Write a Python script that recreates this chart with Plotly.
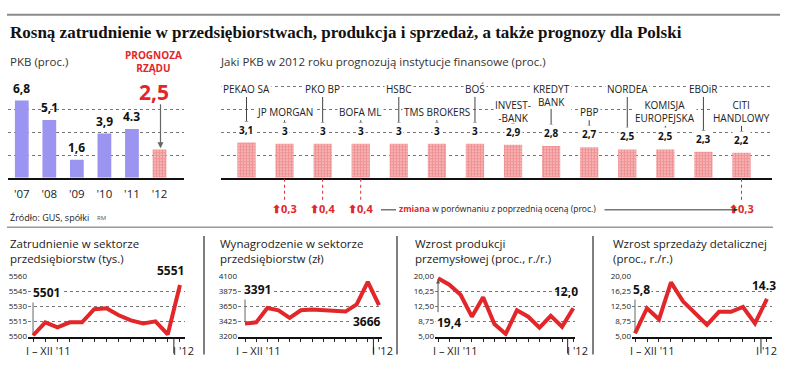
import plotly.graph_objects as go

W, H = 788, 375
def px(x): return x / W
def py(y): return 1 - y / H

RED = "#e3262a"
PURPLE = "#9b94f0"
FONT = "Open Sans"

# ---------------- data ----------------
pkb_years = ["'07", "'08", "'09", "'10", "'11", "'12"]
pkb_values = [6.8, 5.1, 1.6, 3.9, 4.3, 2.5]
pkb_labels = ["6,8", "5,1", "1,6", "3,9", "4.3"]
pkb_forecast_label = "2,5"

institutions = ["PEKAO SA", "JP MORGAN", "PKO BP", "BOFA ML", "HSBC", "TMS BROKERS", "BOŚ",
                "INVEST-BANK", "KREDYT BANK", "PBP", "NORDEA", "KOMISJA EUROPEJSKA", "EBOiR", "CITI HANDLOWY"]
institution_labels = ["PEKAO SA", "JP MORGAN", "PKO BP", "BOFA ML", "HSBC", "TMS BROKERS", "BOŚ",
                      "INVEST-<br>-BANK", "KREDYT<br>BANK", "PBP", "NORDEA", "KOMISJA<br>EUROPEJSKA", "EBOiR",
                      "CITI<br>HANDLOWY"]
forecasts = [3.1, 3.0, 3.0, 3.0, 3.0, 3.0, 3.0, 2.9, 2.8, 2.7, 2.5, 2.5, 2.3, 2.2]
forecast_labels = ["3,1", "3", "3", "3", "3", "3", "3", "2,9", "2,8", "2,7", "2,5", "2,5", "2,3", "2,2"]
change_institutions = ["JP MORGAN", "PKO BP", "BOFA ML", "CITI HANDLOWY"]
change_labels = ["0,3", "0,4", "0,4", "0,3"]

months = ["I '11", "II '11", "III '11", "IV '11", "V '11", "VI '11", "VII '11", "VIII '11",
          "IX '11", "X '11", "XI '11", "XII '11", "I '12"]
months12 = months[1:]

employment = [5501, 5514, 5509, 5514, 5514, 5527, 5528, 5521, 5516, 5513, 5515, 5502, 5551]
wages = [3391, 3410, 3623, 3589, 3477, 3589, 3599, 3589, 3579, 3570, 3677, 4012, 3666]
production = [19.4, 17.8, 15.3, 9.9, 14.7, 8.1, 5.65, 11.5, 9.9, 7.2, 10.1, 7.4, 12.0]
retail = [5.8, 12.0, 9.25, 18.4, 13.7, 10.8, 7.9, 11.1, 11.1, 12.3, 8.25, 14.3]

emp_ticks = [5500, 5515, 5530, 5545, 5560]
wage_ticks = [3200, 3425, 3650, 3875, 4100]
pct_ticks = [5.0, 8.75, 12.5, 16.25, 20.0]
pct_ticktext = ["5,00", "8,75", "12,50", "16,25", "20,00"]

DOTS = dict(shape=".", fgcolor=RED, bgcolor="white", size=3, solidity=0.8)

fig = go.Figure()

# PKB bars (history)
fig.add_trace(go.Bar(
    x=pkb_years[:5], y=pkb_values[:5], width=0.5, xaxis="x", yaxis="y",
    marker=dict(color=PURPLE, line=dict(width=0)), hoverinfo="skip"))
# PKB forecast bar
fig.add_trace(go.Bar(
    x=pkb_years[5:], y=pkb_values[5:], width=0.5, xaxis="x", yaxis="y",
    marker=dict(color="white", line=dict(width=0), pattern=DOTS), hoverinfo="skip"))

# institutions bars
fig.add_trace(go.Bar(
    x=institutions, y=forecasts, width=0.48, xaxis="x2", yaxis="y2",
    marker=dict(color="white", line=dict(width=0), pattern=DOTS), hoverinfo="skip"))

# line panels
for i, (xs, ys) in enumerate([(months, employment), (months, wages), (months, production), (months12, retail)]):
    n = i + 3
    fig.add_trace(go.Scatter(x=xs, y=ys, mode="lines", xaxis=f"x{n}", yaxis=f"y{n}",
                             line=dict(color=RED, width=4), hoverinfo="skip"))

ann = []
shapes = []

def A(**kw):
    d = dict(showarrow=False, xanchor="center", yanchor="middle",
             font=dict(family=FONT, size=11, color="#222"))
    if "font" in kw:
        f = dict(d["font"]); f.update(kw.pop("font")); d["font"] = f
    d.update(kw)
    ann.append(d)

def line(x0, y0, x1, y1, xref="paper", yref="paper", color="#777", width=1, dash="solid"):
    shapes.append(dict(type="line", x0=x0, y0=y0, x1=x1, y1=y1, xref=xref, yref=yref,
                       line=dict(color=color, width=width, dash=dash)))

# top rules
line(px(7), py(9), px(780), py(9), color="#8a8a8a", width=2)
line(px(7), py(228), px(773), py(228), color="#9a9a9a", width=1.5)

# title
A(text="<b>Rosną zatrudnienie w przedsiębiorstwach, produkcja i sprzedaż, a także prognozy dla Polski</b>",
  x=px(8), y=py(27), xref="paper", yref="paper", xanchor="left",
  font=dict(family="Liberation Serif", size=17, color="#111"))

# PKB panel
A(text="PKB (proc.)", x=px(8), y=py(57), xref="paper", yref="paper", xanchor="left",
  font=dict(size=11.5, color="#333"))
for yr, v, lab in zip(pkb_years[:5], pkb_values[:5], pkb_labels):
    A(text=f"<b>{lab}</b>", x=yr, y=v, xref="x", yref="y", yanchor="bottom", yshift=2,
      font=dict(size=12, color="#111"))
A(text="<b>PROGNOZA<br>RZĄDU</b>", x=pkb_years[5], y=py(57.5), xref="x", yref="paper", xshift=-6,
  font=dict(size=10, color=RED))
A(text=f"<b>{pkb_forecast_label}</b>", x=pkb_years[5], y=py(89), xref="x", yref="paper", xshift=-6,
  font=dict(size=21, color=RED))
ann.append(dict(text="", x=pkb_years[5], y=pkb_values[5] + 0.1, xref="x", yref="y",
                ax=0, ay=6.6, axref="pixel", ayref="y", showarrow=True, arrowhead=2,
                arrowsize=1, arrowwidth=1.2, arrowcolor="#666", xshift=1))
A(text="Źródło: GUS, spółki", x=px(8), y=py(218), xref="paper", yref="paper", xanchor="left",
  font=dict(size=9, color="#222"))
A(text="RM", x=px(95), y=py(218), xref="paper", yref="paper", xanchor="left",
  font=dict(size=6, color="#555"))

# institutions panel
A(text="Jaki PKB w 2012 roku prognozują instytucje finansowe (proc.)", x=px(218), y=py(57),
  xref="paper", yref="paper", xanchor="left", font=dict(size=11.5, color="#333"))
for i, (inst, lab, v, vl) in enumerate(zip(institutions, institution_labels, forecasts, forecast_labels)):
    two = "<br>" in lab
    if i % 2 == 0:
        A(text=lab, x=inst, y=8, xref="x2", yref="y2", yanchor="top", yshift=7, bgcolor="white",
          font=dict(size=10, color="#222"))
        tail = 6.2 if two else 7.25
    else:
        A(text=lab, x=inst, y=6, xref="x2", yref="y2", yanchor="middle", yshift=-2, bgcolor="white",
          font=dict(size=10, color="#222"))
        tail = 4.7 if two else 5.2
    ann.append(dict(text="", x=inst, y=v + 1.55, xref="x2", yref="y2", ax=0, ay=tail,
                    axref="pixel", ayref="y2", showarrow=True, arrowhead=2, arrowsize=0.8,
                    arrowwidth=1, arrowcolor="#444"))
    A(text=f"<b>{vl}</b>", x=inst, y=v, xref="x2", yref="y2", yanchor="bottom", yshift=4, bgcolor="white",
      font=dict(size=10, color="#111"))

for inst, cl in zip(change_institutions, change_labels):
    line(inst, py(178), inst, py(200), xref="x2", yref="paper", color=RED, width=1, dash="dot")
    A(text=f"<b>⬆{cl}</b>", x=inst, y=py(209), xref="x2", yref="paper",
      font=dict(size=11, color=RED))
A(text=f"<b><span style='color:{RED}'>zmiana</span></b> w porównaniu z poprzednią oceną (proc.)",
  x=px(397), y=py(209), xref="paper", yref="paper", xanchor="left", font=dict(size=8.5, color="#222"))
line(px(381), py(210), px(396), py(210), color="#333", width=1)
ann.append(dict(text="", x=px(738), y=py(210), xref="paper", yref="paper", ax=-(738 - 603), ay=0,
                axref="pixel", ayref="pixel", showarrow=True, arrowhead=2, arrowsize=0.8,
                arrowwidth=1, arrowcolor="#333"))

# bottom dividers
for xd in [204, 397, 593]:
    line(px(xd), py(237), px(xd), py(359), color="#555", width=1.5)

titles = ["Zatrudnienie w sektorze<br>przedsiębiorstw (tys.)",
          "Wynagrodzenie w sektorze<br>przedsiębiorstw (zł)",
          "Wzrost produkcji<br>przemysłowej (proc., r./r.)",
          "Wzrost sprzedaży detalicznej<br>(proc., r./r.)"]
title_x = [8, 218, 413, 611]
for t, tx in zip(titles, title_x):
    A(text=t, x=px(tx), y=py(235), xref="paper", yref="paper", xanchor="left", yanchor="top",
      align="left", font=dict(size=11.5, color="#222"))

series = [(months, employment), (months, wages), (months, production), (months12, retail)]
for i, (xs, ys) in enumerate(series):
    n = i + 3
    A(text="I – XII '11", x=0, y=py(355), xref=f"x{n} domain", yref="paper", xanchor="left", xshift=-4,
      font=dict(size=11, color="#222"))
    A(text="I '12", x=xs[-1], y=py(355), xref=f"x{n}", yref="paper", xshift=4 if i < 3 else 0,
      font=dict(size=11, color="#222"))
    # separator Dec/Jan
    line(len(xs) - 1.5, py(341), len(xs) - 1.5, py(358), xref=f"x{n}", yref="paper", color="#222", width=1)

# panel 1 labels
line(months[0], 5503, months[0], 5537, xref="x3", yref="y3", color="#666", width=1)
A(text=f"<b>{employment[0]}</b>", x=months[0], y=5544, xref="x3", yref="y3", xanchor="left", xshift=-2,
  bgcolor="white", font=dict(size=12, color="#111"))
A(text=f"<b>{employment[-1]}</b>", x=months[-1], y=employment[-1], xref="x3", yref="y3", xanchor="right",
  yanchor="bottom", xshift=6, yshift=4, font=dict(size=12, color="#111"))
# panel 2 labels
line(months[0], 3420, months[0], 3800, xref="x4", yref="y4", color="#666", width=1)
A(text=f"<b>{wages[0]}</b>", x=months[0], y=3897, xref="x4", yref="y4", xanchor="left", xshift=-3,
  bgcolor="white", font=dict(size=12, color="#111"))
A(text=f"<b>{wages[-1]}</b>", x=months[-1], y=wages[-1], xref="x4", yref="y4", xanchor="right",
  yanchor="top", xshift=4, yshift=-6, bgcolor="white", font=dict(size=12, color="#111"))
# panel 3 labels
ann.append(dict(text="", x=months[0], y=production[0] - 0.3, xref="x5", yref="y5", ax=0, ay=10.6,
                axref="pixel", ayref="y5", showarrow=True, arrowhead=2, arrowsize=0.8,
                arrowwidth=1, arrowcolor="#555"))
A(text="<b>19,4</b>", x=months[0], y=8.4, xref="x5", yref="y5", xanchor="left", xshift=-3,
  bgcolor="white", font=dict(size=12, color="#111"))
A(text="<b>12,0</b>", x=months[-1], y=production[-1], xref="x5", yref="y5", xanchor="right",
  yanchor="bottom", xshift=7, yshift=6, font=dict(size=12, color="#111"))
# panel 4 labels
line(months12[0], 6.4, months12[0], 15.0, xref="x6", yref="y6", color="#666", width=1)
A(text="<b>5,8</b>", x=months12[0], y=16.6, xref="x6", yref="y6", xanchor="left", xshift=-4,
  bgcolor="white", font=dict(size=12, color="#111"))
A(text="<b>14.3</b>", x=months12[-1], y=retail[-1], xref="x6", yref="y6", xanchor="right",
  yanchor="bottom", xshift=11, yshift=3, font=dict(size=12, color="#111"))

GRID = dict(showgrid=True, gridcolor="#777", griddash="dot", gridwidth=1, zeroline=False, showline=False)

layout = dict(
    width=W, height=H, margin=dict(l=0, r=0, t=0, b=0),
    paper_bgcolor="white", plot_bgcolor="white", showlegend=False, barmode="overlay",
    font=dict(family=FONT, color="#222"),
    annotations=ann, shapes=shapes,
    xaxis=dict(domain=[px(8), px(184)], anchor="y", showline=True, linecolor="#111", linewidth=2,
               ticks="", tickfont=dict(size=11.5, color="#222"), ticklabelstandoff=4, showgrid=False,
               categoryorder="array", categoryarray=pkb_years),
    yaxis=dict(domain=[py(177), py(60)], anchor="x", range=[0, 10], tickvals=[2, 4, 6],
               showticklabels=False, **GRID),
    xaxis2=dict(domain=[px(221), px(772)], anchor="y2", showline=True, linecolor="#111", linewidth=2,
                ticks="", showticklabels=False, showgrid=False, categoryorder="array",
                categoryarray=institutions),
    yaxis2=dict(domain=[py(177), py(60)], anchor="x2", range=[0, 10], tickvals=[2, 4, 6, 8],
                showticklabels=False, **GRID),
)

line_axes = [
    (3, [28, 185], [-0.41, 12.41], months, [5500, 5560], emp_ticks, [str(t) for t in emp_ticks]),
    (4, [238, 382], [-0.63, 12.27], months, [3200, 4100], wage_ticks, [str(t) for t in wage_ticks]),
    (5, [435, 575], [-0.27, 12.15], months, [5, 20], pct_ticks, pct_ticktext),
    (6, [632, 772], [-0.25, 11.42], months12, [5, 20], pct_ticks, pct_ticktext),
]
for n, dom, xr, cats, yr, tv, tt in line_axes:
    layout[f"xaxis{n}"] = dict(domain=[px(dom[0]), px(dom[1])], anchor=f"y{n}", range=xr,
                               showline=True, linecolor="#111", linewidth=2, ticks="outside", ticklen=3,
                               tickwidth=1, tickcolor="#222", tickmode="array", tickvals=cats,
                               showticklabels=False, showgrid=False, categoryorder="array",
                               categoryarray=cats)
    layout[f"yaxis{n}"] = dict(domain=[py(340.5), py(278)], anchor=f"x{n}", range=yr, tickvals=tv,
                               ticktext=tt, tickfont=dict(size=8, color="#222"), ticks="", **GRID)

fig.update_layout(**layout)
fig.write_html("out.html", config={"displayModeBar": False},
               post_script="document.body.style.margin='0px';")
